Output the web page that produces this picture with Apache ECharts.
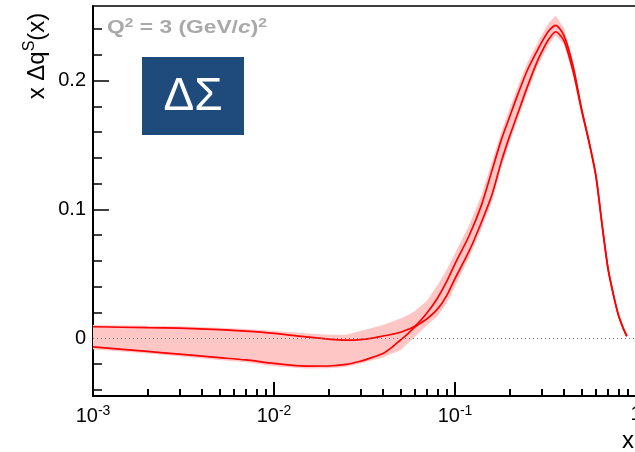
<!DOCTYPE html>
<html>
<head>
<meta charset="utf-8">
<script src="https://cdn.jsdelivr.net/npm/echarts@6/dist/echarts.min.js"></script>
<style>
  html, body { margin: 0; padding: 0; background: #fff; }
  #chart { width: 635px; height: 452px; }
</style>
</head>
<body>
<div id="chart"></div>
<script>
// Singlet helicity distribution x·Δq^S(x) at Q² = 3 (GeV/c)²
const xs = [0.001, 0.002, 0.003, 0.005, 0.007, 0.01, 0.015, 0.02, 0.025, 0.03,
            0.035, 0.04, 0.045, 0.05, 0.055, 0.06, 0.07, 0.08, 0.09, 0.1,
            0.12, 0.14, 0.16, 0.18, 0.2, 0.22, 0.25, 0.28, 0.3, 0.33,
            0.36, 0.4, 0.45, 0.5, 0.55, 0.6, 0.65, 0.7, 0.75, 0.8,
            0.85, 0.89];

// upper / lower edges of the inner band (drawn as red curves)
const upperEdge = [0.0088, 0.0081, 0.0077, 0.0065, 0.0054, 0.0037, 0.0010, -0.0008, -0.0016, -0.0012,
                   0.0000, 0.0016, 0.0030, 0.0045, 0.0068, 0.0092, 0.0195, 0.0310, 0.0440, 0.0576,
                   0.0799, 0.1033, 0.1301, 0.1538, 0.1716, 0.1876, 0.2075, 0.2213, 0.2294, 0.2388,
                   0.2430, 0.2350, 0.2109, 0.1785, 0.1530, 0.1268, 0.0880, 0.0545, 0.0340, 0.0180,
                   0.0077, 0.0015];
const lowerEdge = [-0.0068, -0.0104, -0.0125, -0.0152, -0.0170, -0.0197, -0.0218, -0.0217, -0.0205, -0.0180,
                   -0.0150, -0.0120, -0.0070, -0.0015, 0.0035, 0.0085, 0.0150, 0.0225, 0.0330, 0.0462,
                   0.0679, 0.0900, 0.1113, 0.1367, 0.1565, 0.1727, 0.1946, 0.2125, 0.2217, 0.2323,
                   0.2380, 0.2310, 0.2066, 0.1770, 0.1520, 0.1260, 0.0875, 0.0540, 0.0336, 0.0177,
                   0.0075, 0.0013];

// outer uncertainty band (pink fill)
const bandHigh = [0.0101, 0.0095, 0.0091, 0.0080, 0.0070, 0.0055, 0.0037, 0.0026, 0.0025, 0.0055,
                  0.0080, 0.0102, 0.0128, 0.0152, 0.0180, 0.0210, 0.0290, 0.0410, 0.0530, 0.0660,
                  0.0880, 0.1110, 0.1370, 0.1600, 0.1780, 0.1940, 0.2135, 0.2270, 0.2350, 0.2450,
                  0.2505, 0.2410, 0.2140, 0.1800, 0.1530, 0.1268, 0.0880, 0.0545, 0.0340, 0.0180,
                  0.0077, 0.0015];
const bandLow  = [-0.0086, -0.0120, -0.0142, -0.0170, -0.0188, -0.0218, -0.0236, -0.0234, -0.0225, -0.0198,
                  -0.0172, -0.0150, -0.0120, -0.0095, -0.0040, 0.0010, 0.0100, 0.0170, 0.0270, 0.0400,
                  0.0630, 0.0850, 0.1060, 0.1320, 0.1520, 0.1680, 0.1900, 0.2080, 0.2170, 0.2280,
                  0.2350, 0.2280, 0.2050, 0.1765, 0.1520, 0.1260, 0.0875, 0.0540, 0.0336, 0.0177,
                  0.0075, 0.0013];

// axis ticks
const xMinorTicks = [0.002, 0.003, 0.004, 0.005, 0.006, 0.007, 0.008, 0.009,
                     0.02, 0.03, 0.04, 0.05, 0.06, 0.07, 0.08, 0.09,
                     0.2, 0.3, 0.4, 0.5, 0.6, 0.7, 0.8, 0.9];
const yMajorTicks = [0, 0.1, 0.2];
const yMinorTicks = [-0.04, -0.02, 0.02, 0.04, 0.06, 0.08, 0.12, 0.14, 0.16, 0.18, 0.22, 0.24];

const FONT = '"Liberation Sans", Arial, Helvetica, sans-serif';
const Y_MIN = -0.045, Y_MAX = 0.258;

const pairs = ys => xs.map((x, i) => [x, ys[i]]);

const chart = echarts.init(document.getElementById('chart'));

const redLine = { color: '#ff0000', width: 1.7 };
const xTickStyle = { color: '#000', width: 2 };
const yTickStyle = { color: '#000', width: 1.5 };

chart.setOption({
  animation: false,
  grid: {
    left: 93, top: 6, width: 543, height: 390, outerBoundsMode: 'none',
    show: true, borderColor: '#000', borderWidth: 1.5
  },
  xAxis: [
    {
      // decades: labels and long ticks
      type: 'log', logBase: 10, min: 0.001, max: 1,
      axisLine: { show: true, onZero: false, lineStyle: { color: '#000', width: 2 } },
      splitLine: { show: false },
      axisTick: { show: true, inside: true, length: 14, lineStyle: xTickStyle },
      axisLabel: {
        margin: 8,
        formatter: v => {
          const e = Math.round(Math.log10(v));
          return e === 0 ? '{b|1}' : '{b|10}{e|' + e + '}';
        },
        rich: {
          b: { fontSize: 20, fontFamily: FONT, color: '#000' },
          e: { fontSize: 14, fontFamily: FONT, color: '#000', padding: [0, 0, 11, 0] }
        }
      }
    },
    {
      // 2..9 within each decade: short ticks
      type: 'log', logBase: 10, min: 0.001, max: 1, position: 'bottom',
      axisLine: { show: false, onZero: false }, splitLine: { show: false }, axisLabel: { show: false },
      axisTick: { show: true, inside: true, length: 7, customValues: xMinorTicks, lineStyle: xTickStyle }
    }
  ],
  yAxis: [
    {
      type: 'value', min: Y_MIN, max: Y_MAX,
      axisLine: { show: true, onZero: false, lineStyle: { color: '#000', width: 2 } },
      splitLine: { show: false },
      axisTick: { inside: true, length: 16, customValues: yMajorTicks, lineStyle: yTickStyle },
      axisLabel: {
        customValues: yMajorTicks, margin: 7,
        fontSize: 20, fontFamily: FONT, color: '#000',
        formatter: v => (v === 0 ? '0' : String(+v.toFixed(2)))
      }
    },
    {
      type: 'value', min: Y_MIN, max: Y_MAX, position: 'left',
      axisLine: { show: false, onZero: false }, splitLine: { show: false }, axisLabel: { show: false },
      axisTick: { inside: true, length: 9, customValues: yMinorTicks, lineStyle: yTickStyle }
    }
  ],
  series: [
    {
      // pink uncertainty band
      type: 'custom',
      xAxisIndex: 0, yAxisIndex: 0,
      silent: true, clip: true, z: 1,
      data: [[xs[0], 0]],
      renderItem: (params, api) => {
        const pts = [];
        for (let i = 0; i < xs.length; i++) pts.push(api.coord([xs[i], bandHigh[i]]));
        for (let i = xs.length - 1; i >= 0; i--) pts.push(api.coord([xs[i], bandLow[i]]));
        return {
          type: 'polygon',
          shape: { points: pts },
          style: { fill: '#ffc6c6' }
        };
      }
    },
    {
      type: 'line', data: pairs(upperEdge),
      showSymbol: false, symbol: 'none', smooth: 0.25, silent: true, z: 3,
      lineStyle: redLine,
      markLine: {
        silent: true, symbol: ['none', 'none'],
        label: { show: false },
        lineStyle: { color: '#7a7a7a', type: [1, 3], width: 1 },
        data: [{ yAxis: 0 }]
      }
    },
    {
      type: 'line', data: pairs(lowerEdge),
      showSymbol: false, symbol: 'none', smooth: 0.25, silent: true, z: 3,
      lineStyle: redLine
    }
  ],
  graphic: [
    {
      type: 'text', x: 37, y: 56, rotation: Math.PI / 2,
      style: {
        text: '{a|x \u0394q}{s|S}{a|(x)}',
        align: 'center', verticalAlign: 'middle',
        rich: {
          a: { fontSize: 24, fontFamily: FONT, fill: '#000' },
          s: { fontSize: 16, fontFamily: FONT, fill: '#000', padding: [0, 0, 15, 0] }
        }
      }
    },
    {
      type: 'text', x: 107, y: 28, scaleX: 1.2,
      style: {
        text: '{g|Q}{s|2}{g| = 3 (GeV/}{i|c}{g|)}{s|2}',
        align: 'left', verticalAlign: 'middle',
        rich: {
          g: { fontSize: 19, fontWeight: 'bold', fontFamily: FONT, fill: '#a9a9a9' },
          i: { fontSize: 19, fontWeight: 'bold', fontStyle: 'italic', fontFamily: FONT, fill: '#a9a9a9' },
          s: { fontSize: 13, fontWeight: 'bold', fontFamily: FONT, fill: '#a9a9a9', padding: [0, 0, 10, 0] }
        }
      }
    },
    {
      type: 'rect', shape: { x: 142, y: 57, width: 102, height: 78 },
      style: { fill: '#1f4a7c' }
    },
    {
      type: 'text', x: 193, y: 97,
      style: {
        text: '\u0394\u03a3', fill: '#fff',
        font: '46px "Liberation Sans", Arial, sans-serif',
        align: 'center', verticalAlign: 'middle'
      }
    },
    {
      type: 'text', x: 628, y: 441,
      style: {
        text: 'x', fill: '#000',
        font: '24px "Liberation Sans", Arial, sans-serif',
        align: 'center', verticalAlign: 'middle'
      }
    }
  ]
});
</script>
</body>
</html>
